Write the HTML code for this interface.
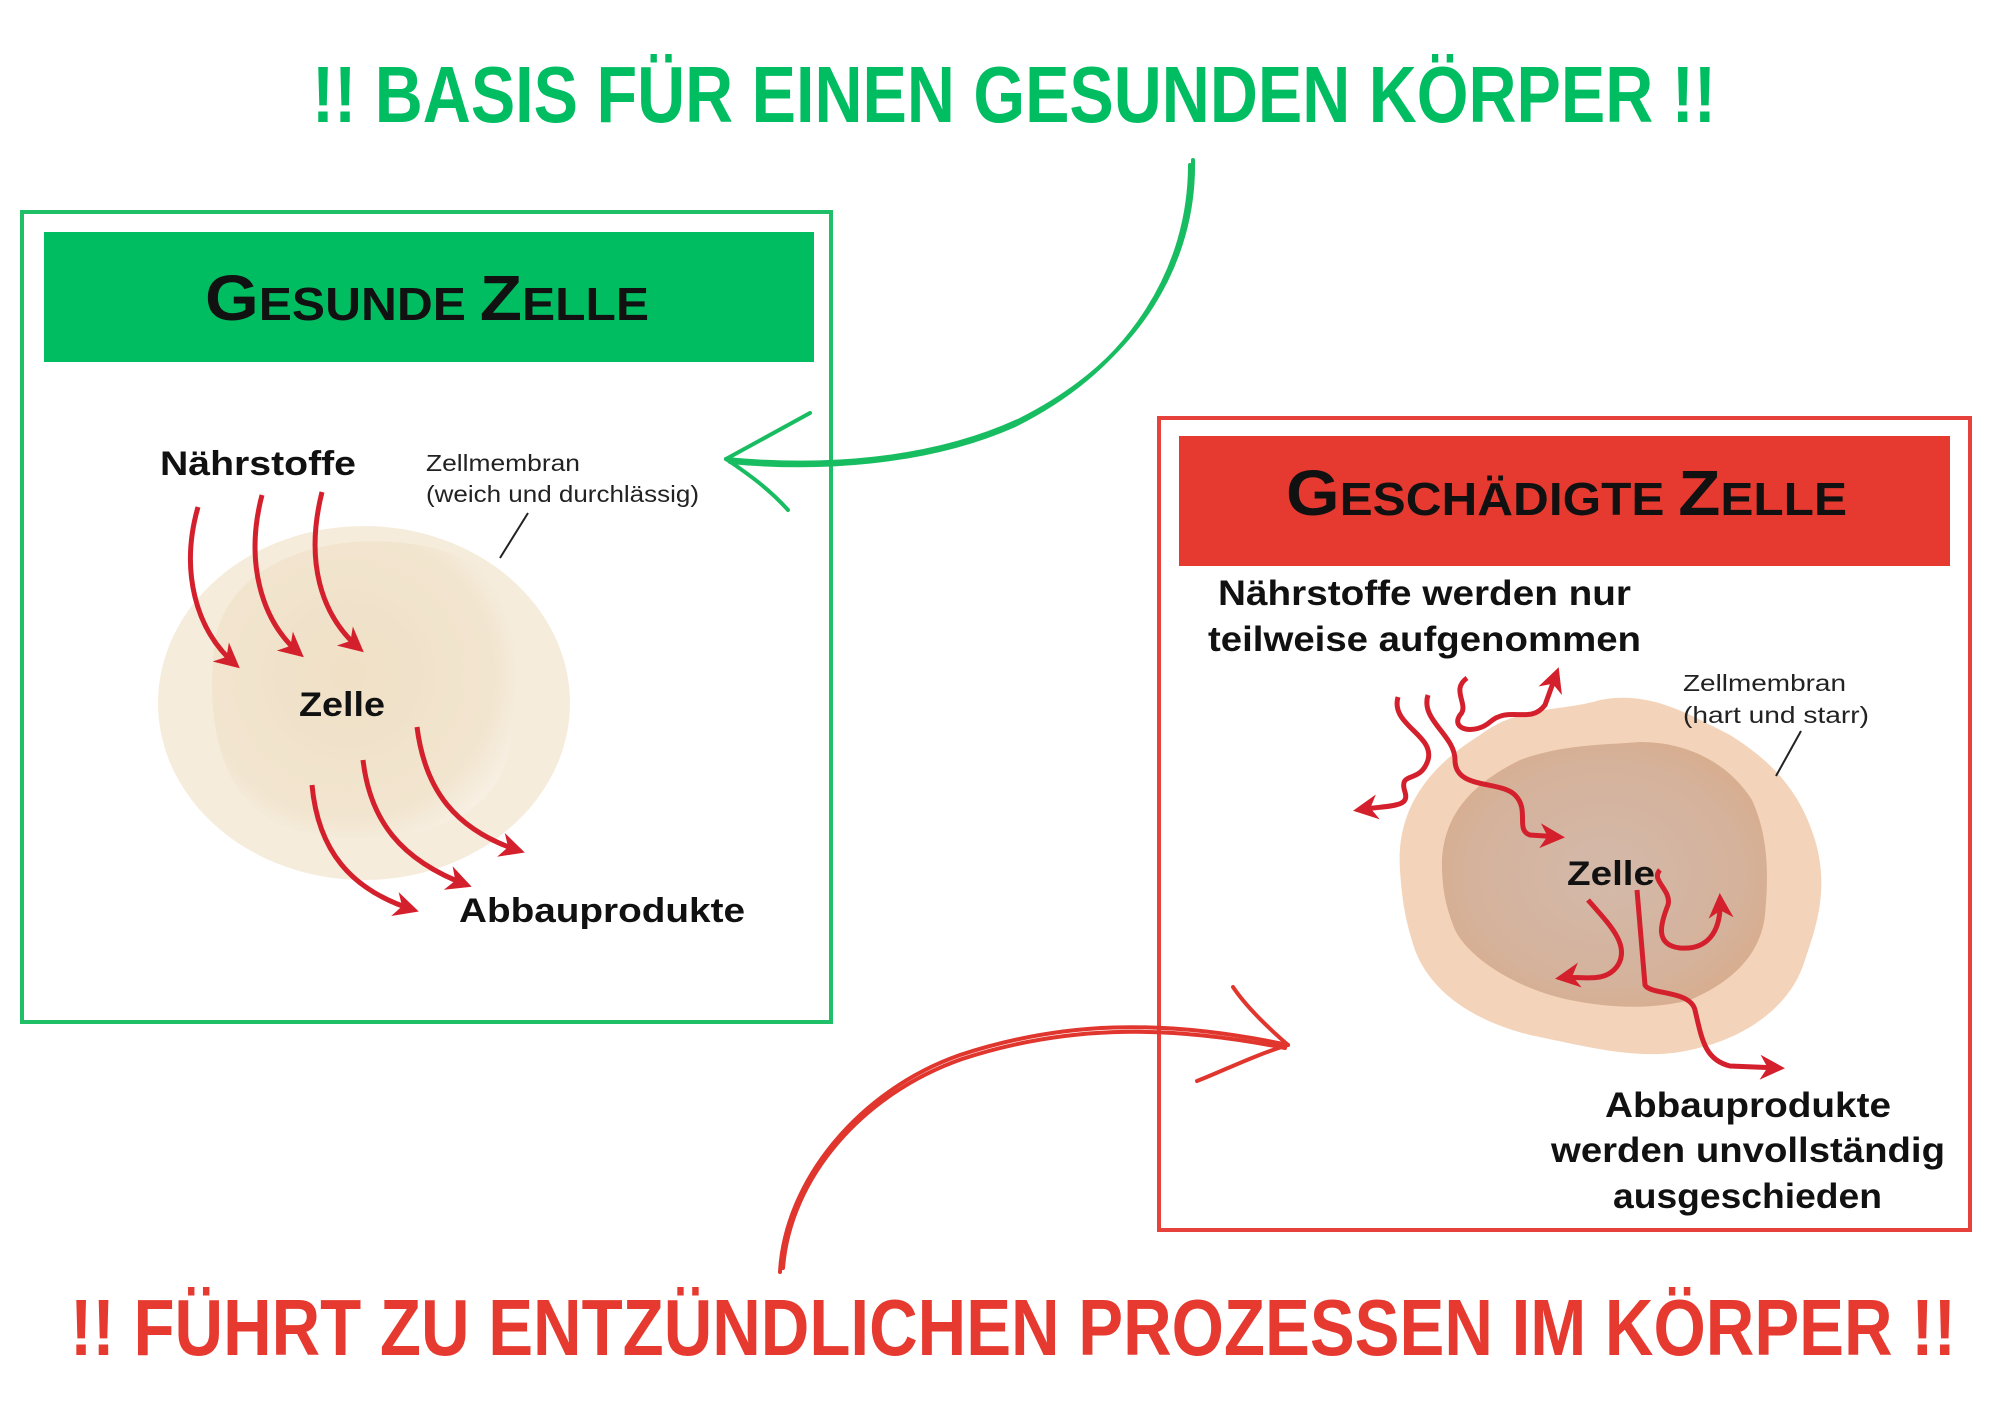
<!DOCTYPE html>
<html><head><meta charset="utf-8"><style>
html,body{margin:0;padding:0;background:#fff;}
svg{display:block;}
text{font-family:"Liberation Sans",sans-serif;}
</style></head><body>
<svg width="2000" height="1414" viewBox="0 0 2000 1414" xmlns="http://www.w3.org/2000/svg">
<defs>
<radialGradient id="hc" cx="0.45" cy="0.45" r="0.6">
<stop offset="0" stop-color="#efe0c6"/><stop offset="0.8" stop-color="#f2e5cf"/><stop offset="1" stop-color="#f7efe2"/>
</radialGradient>
<radialGradient id="dc" cx="0.5" cy="0.5" r="0.6">
<stop offset="0" stop-color="#d3b9aa"/><stop offset="0.7" stop-color="#d5b29b"/><stop offset="1" stop-color="#d9ab8a"/>
</radialGradient>
<marker id="ah" viewBox="0 0 10 10" refX="8" refY="5" markerWidth="5" markerHeight="5" orient="auto"><path d="M0,0 L10,5 L0,10 L3,5 Z" fill="#d4202c"/></marker>
</defs>

<text x="312" y="122" font-size="80" font-weight="bold" fill="#00bd62" textLength="1404" lengthAdjust="spacingAndGlyphs">!! BASIS FÜR EINEN GESUNDEN KÖRPER !!</text>
<text x="70" y="1355" font-size="80" font-weight="bold" fill="#e63a30" textLength="1886" lengthAdjust="spacingAndGlyphs">!! FÜHRT ZU ENTZÜNDLICHEN PROZESSEN IM KÖRPER !!</text>

<rect x="22" y="212" width="809" height="810" fill="none" stroke="#1fbf67" stroke-width="4"/>
<rect x="44" y="232" width="770" height="130" fill="#00bd62"/>
<text x="205" y="320" fill="#111" font-weight="bold" textLength="444" lengthAdjust="spacingAndGlyphs"><tspan font-size="64">G</tspan><tspan font-size="46">ESUNDE </tspan><tspan font-size="64">Z</tspan><tspan font-size="46">ELLE</tspan></text>

<ellipse cx="364" cy="703" rx="206" ry="177" fill="#f6ecdb"/>
<path d="M215,640 C230,560 330,530 420,545 C500,560 515,600 515,680 C515,760 500,790 470,810 C430,840 330,850 270,820 C220,790 205,720 215,640 Z" fill="url(#hc)"/>
<text x="160" y="475" font-size="34" font-weight="bold" fill="#111" textLength="196" lengthAdjust="spacingAndGlyphs">Nährstoffe</text>
<text x="426" y="471" font-size="23" fill="#222" textLength="154" lengthAdjust="spacingAndGlyphs">Zellmembran</text>
<text x="426" y="502" font-size="23" fill="#222" textLength="273" lengthAdjust="spacingAndGlyphs">(weich und durchlässig)</text>
<line x1="528" y1="513" x2="500" y2="558" stroke="#222" stroke-width="2"/>
<text x="299" y="716" font-size="34" font-weight="bold" fill="#111" textLength="86" lengthAdjust="spacingAndGlyphs">Zelle</text>
<text x="459" y="922" font-size="34" font-weight="bold" fill="#111" textLength="286" lengthAdjust="spacingAndGlyphs">Abbauprodukte</text>
<g fill="none" stroke="#d4202c" stroke-width="5" marker-end="url(#ah)">
<path d="M198,507 C180,570 195,630 236,665"/>
<path d="M262,495 C245,560 260,620 300,654"/>
<path d="M322,492 C305,560 320,615 360,649"/>
<path d="M312,785 C318,850 350,890 414,910"/>
<path d="M363,760 C370,820 400,860 467,885"/>
<path d="M417,727 C425,790 455,830 520,851"/>
</g>

<g fill="none" stroke="#17bd60" stroke-width="4" stroke-linecap="round">
<path d="M1193,160 C1195,260 1140,360 1020,420 C930,462 820,468 726,459"/>
<path d="M1190,165 C1190,265 1135,365 1015,425 C925,465 815,470 730,462"/>
<path d="M726,459 L810,413"/>
<path d="M726,459 C750,475 770,490 788,510"/>
</g>

<rect x="1159" y="418" width="811" height="812" fill="none" stroke="#e6413a" stroke-width="4"/>
<rect x="1179" y="436" width="771" height="130" fill="#e63a30"/>
<text x="1286" y="515" fill="#111" font-weight="bold" textLength="561" lengthAdjust="spacingAndGlyphs"><tspan font-size="64">G</tspan><tspan font-size="46">ESCHÄDIGTE </tspan><tspan font-size="64">Z</tspan><tspan font-size="46">ELLE</tspan></text>

<path d="M1400,870 C1395,800 1440,760 1480,735 C1520,705 1560,712 1600,700 C1650,690 1690,715 1730,735 C1770,760 1800,790 1815,840 C1830,890 1815,930 1805,960 C1790,1010 1740,1040 1690,1050 C1640,1062 1580,1045 1530,1035 C1470,1020 1430,990 1415,950 C1405,920 1402,900 1400,870 Z" fill="#f3d4ba"/>
<path d="M1442,870 C1440,810 1480,780 1520,760 C1560,745 1600,745 1640,742 C1690,742 1730,765 1752,800 C1770,840 1768,880 1765,915 C1760,960 1725,985 1690,1000 C1650,1010 1610,1008 1570,1000 C1520,990 1470,960 1455,930 C1445,905 1443,890 1442,870 Z" fill="url(#dc)"/>
<text x="1218" y="605" font-size="35" font-weight="bold" fill="#111" textLength="413" lengthAdjust="spacingAndGlyphs">Nährstoffe werden nur</text>
<text x="1208" y="651" font-size="35" font-weight="bold" fill="#111" textLength="433" lengthAdjust="spacingAndGlyphs">teilweise aufgenommen</text>
<text x="1683" y="691" font-size="23" fill="#222" textLength="163" lengthAdjust="spacingAndGlyphs">Zellmembran</text>
<text x="1683" y="723" font-size="23" fill="#222" textLength="186" lengthAdjust="spacingAndGlyphs">(hart und starr)</text>
<line x1="1801" y1="731" x2="1776" y2="776" stroke="#222" stroke-width="2"/>
<text x="1567" y="885" font-size="34" font-weight="bold" fill="#111" textLength="88" lengthAdjust="spacingAndGlyphs">Zelle</text>
<text x="1605" y="1117" font-size="35" font-weight="bold" fill="#111" textLength="286" lengthAdjust="spacingAndGlyphs">Abbauprodukte</text>
<text x="1551" y="1162" font-size="35" font-weight="bold" fill="#111" textLength="394" lengthAdjust="spacingAndGlyphs">werden unvollständig</text>
<text x="1613" y="1208" font-size="35" font-weight="bold" fill="#111" textLength="269" lengthAdjust="spacingAndGlyphs">ausgeschieden</text>
<g fill="none" stroke="#d4202c" stroke-width="5" marker-end="url(#ah)">
<path d="M1398,697 C1390,725 1435,735 1428,760 C1420,785 1398,770 1405,792 C1410,808 1390,805 1358,810"/>
<path d="M1428,695 C1420,720 1455,735 1455,760 C1455,790 1500,780 1515,795 C1530,810 1515,830 1530,835 L1560,837"/>
<path d="M1467,678 C1450,690 1470,705 1460,715 C1450,730 1475,735 1490,722 C1510,705 1530,725 1545,705 L1557,672"/>
<path d="M1588,900 C1610,925 1630,945 1618,965 C1605,985 1580,975 1560,978"/>
<path d="M1637,890 L1645,985 C1650,995 1690,990 1695,1010 C1702,1040 1705,1060 1730,1066 L1780,1068"/>
<path d="M1660,870 C1650,880 1672,890 1668,905 C1660,925 1655,945 1680,948 C1705,950 1722,935 1720,898"/>
</g>

<g fill="none" stroke="#e0362e" stroke-width="4" stroke-linecap="round">
<path d="M780,1272 C785,1180 860,1090 960,1055 C1060,1022 1160,1018 1288,1045"/>
<path d="M783,1268 C790,1178 862,1094 962,1059 C1060,1027 1160,1023 1285,1048"/>
<path d="M1288,1045 C1265,1025 1245,1005 1233,987"/>
<path d="M1288,1045 C1255,1055 1225,1070 1197,1081"/>
</g>
</svg>
</body></html>
